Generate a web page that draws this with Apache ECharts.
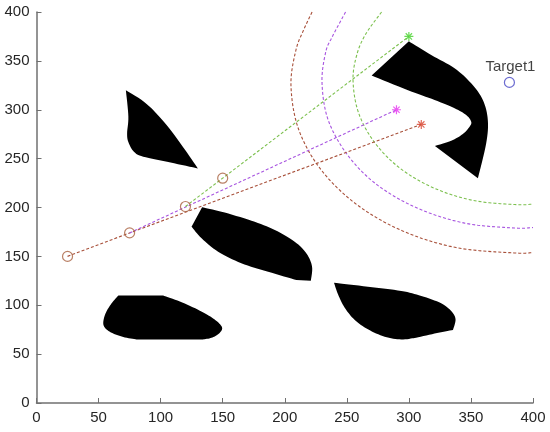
<!DOCTYPE html>
<html>
<head>
    <meta charset="utf-8">
    <title>Target1</title>
    <script src="https://cdn.jsdelivr.net/npm/echarts@6/dist/echarts.min.js"></script>
    <style>
        html, body { margin: 0; padding: 0; background: #fff; }
        #main { width: 550px; height: 432px; }
    </style>
</head>
<body>
<div id="main"></div>
<script>
    var axisTicks = [0, 50, 100, 150, 200, 250, 300, 350, 400];

    /* obstacles, each edge between two sharp corners is its own list */
    var obstacleA = [
        [[72,320],[88.7,306],[104.8,284.4],[118,262],[130,240]],
        [[130,240],[108,246],[86,252],[78.5,257],[74,267],[73,276],[74,293],[72,320]]
    ];
    var obstacleB = [
        [[300,370],[318,356],[336.8,342.4],[350.2,327],[359.6,310],[363.6,289.5],[362.3,265.7],[355.6,230]],
        [[355.6,230],[321,263]],
        [[321,263],[334.1,268.3],[343.5,275.2],[348.9,282.7],[350.2,287.8],[346.2,294.6],[336.8,301.5],[320.7,310],[299.3,320],[270,335]],
        [[270,335],[300,370]]
    ];
    var obstacleC = [
        [[133.4,200.2],[149,195.7],[173.2,186.5],[192,177],[208,165],[217.5,153],[222,139.4],[221,125]],
        [[221,125],[209.4,125.8]],
        [[209.4,125.8],[186.6,134.3],[165,143],[146.3,154.8],[133,168.5],[124.9,180.4]],
        [[124.9,180.4],[133.4,200.2]]
    ];
    var obstacleD = [
        [[66,110],[102,110]],
        [[102,110],[115.5,103.8],[131.6,94.5],[142.3,86.5],[148.2,80],[149.5,75.4],[146.3,70.3],[141,66.7],[134.2,65]],
        [[134.2,65],[80.6,65]],
        [[80.6,65],[69.9,67.5],[60.5,71.9],[55.1,77],[53.8,82.9],[55.9,92.4],[60.5,102],[66,110]]
    ];
    var obstacleE = [
        [[239.7,123],[267,119],[293.9,114.6],[310,109.5],[326,102],[334.1,94],[337.6,85.6],[335.5,74.7]],
        [[335.5,74.7],[320.7,71],[304.6,66.5]],
        [[304.6,66.5],[293.9,65],[280.5,67.8],[267,75.4],[256.4,84.9],[248.3,97.5],[242.9,111.2],[239.7,123]]
    ];

    /* paths */
    var redPath = [[25,150],[75,174],[310,285]];
    var magentaPath = [[75,174],[290,300]];
    var greenPath = [[120,201],[150,230],[300,375]];
    var waypoints = [[25,150],[75,174],[120,201],[150,230]];
    var redStar = [[310,285]];
    var magentaStar = [[290,300]];
    var greenStar = [[300,375]];
    var target = [[381,328]];

    /* arcs */
    var redArc = [[222,400],[215,381],[209,361],[205,325],[211,280.5],[229,239],[258,203],[295,176],[338,159],[385,153.5],[400,154]];
    var magentaArc = [[249,400],[238,374],[233,359],[230,328],[235,289.4],[251,253],[275,222.6],[307.5,199],[345,184],[385,179],[400,179.5]];
    var greenArc = [[278,400],[265,377],[258,356],[255,330],[259.4,297],[272.4,266.5],[293,240],[320,220],[351.4,207.3],[385,203],[400,203.5]];

    var RED = '#a8503a', MAGENTA = '#a855e0', GREEN = '#7cc04e';
    var STAR = 'path://M5 0V10M0 5H10M1.5 1.5L8.5 8.5M8.5 1.5L1.5 8.5';

    // round off a run of pixel points between its two ends
    function edgePoints(pts) {
        if (pts.length < 3) return pts;
        var out = [];
        for (var i = 0; i < pts.length - 1; i++) {
            var p0 = pts[Math.max(i - 1, 0)], p1 = pts[i], p2 = pts[i + 1], p3 = pts[Math.min(i + 2, pts.length - 1)];
            for (var k = 0; k < 8; k++) {
                var t = k / 8, t2 = t * t, t3 = t2 * t;
                out.push([
                    0.5 * (2 * p1[0] + (p2[0] - p0[0]) * t + (2 * p0[0] - 5 * p1[0] + 4 * p2[0] - p3[0]) * t2 + (3 * p1[0] - p0[0] - 3 * p2[0] + p3[0]) * t3),
                    0.5 * (2 * p1[1] + (p2[1] - p0[1]) * t + (2 * p0[1] - 5 * p1[1] + 4 * p2[1] - p3[1]) * t2 + (3 * p1[1] - p0[1] - 3 * p2[1] + p3[1]) * t3)
                ]);
            }
        }
        out.push(pts[pts.length - 1]);
        return out;
    }

    function obstacle(edges) {
        var outline = [];
        edges.forEach(function (e) {
            outline = outline.concat(e);
        });
        return {
            type: 'custom',
            coordinateSystem: 'cartesian2d',
            data: outline,
            z: 1,
            renderItem: function (params, api) {
                if (params.dataIndex !== 0) return;
                var pixels = [];
                edges.forEach(function (e) {
                    pixels = pixels.concat(edgePoints(e.map(function (p) { return api.coord(p); })));
                });
                return { type: 'polygon', shape: { points: pixels }, style: { fill: '#000' } };
            }
        };
    }

    function dashed(points, color) {
        return {
            type: 'line', data: points, symbol: 'none', z: 3,
            lineStyle: { color: color, width: 1.1, type: [3, 2] }
        };
    }

    function arc(points, color) {
        return {
            type: 'custom',
            coordinateSystem: 'cartesian2d',
            data: points,
            z: 3,
            renderItem: function (params, api) {
                if (params.dataIndex !== 0) return;
                var pixels = edgePoints(points.map(function (p) { return api.coord(p); }));
                return {
                    type: 'polyline',
                    shape: { points: pixels },
                    style: { fill: 'none', stroke: color, lineWidth: 1.1, lineDash: [3, 2] }
                };
            }
        };
    }

    function star(points, color) {
        return {
            type: 'scatter', data: points, symbol: STAR, symbolSize: 9, z: 5,
            itemStyle: { color: 'none', borderColor: color, borderWidth: 1.2 }
        };
    }

    var axisCommon = {
        type: 'value', min: 0, max: 400, interval: 50,
        splitLine: { show: false },
        axisLine: { onZero: false, lineStyle: { color: '#707070', width: 1.5 } },
        axisTick: { inside: true, length: 5, lineStyle: { color: '#707070' } },
        axisLabel: {
            color: '#262626', fontSize: 15, fontFamily: 'Liberation Sans', margin: 7,
            customValues: axisTicks
        }
    };

    var chart = echarts.init(document.getElementById('main'));
    chart.setOption({
        animation: false,
        backgroundColor: '#fff',
        grid: { left: 36.5, right: 17, top: 12, bottom: 29 },
        xAxis: axisCommon,
        yAxis: axisCommon,
        series: [
            obstacle(obstacleA), obstacle(obstacleB), obstacle(obstacleC), obstacle(obstacleD), obstacle(obstacleE),
            arc(redArc, RED), arc(magentaArc, MAGENTA), arc(greenArc, GREEN),
            dashed(redPath, RED), dashed(magentaPath, MAGENTA), dashed(greenPath, GREEN),
            {
                type: 'scatter', data: waypoints, symbol: 'circle', symbolSize: 10, z: 5,
                itemStyle: { color: 'none', borderColor: '#a8603f', borderWidth: 1.2 }
            },
            star(redStar, '#d8452f'), star(magentaStar, '#e632f0'), star(greenStar, '#45d22a'),
            {
                type: 'scatter', data: target, symbol: 'circle', symbolSize: 10, z: 5,
                itemStyle: { color: 'none', borderColor: '#4646c4', borderWidth: 1.2 },
                label: {
                    show: true, formatter: 'Target1', position: 'top', distance: 1, offset: [1, 0],
                    color: '#111', fontSize: 15, fontFamily: 'Liberation Sans'
                }
            }
        ]
    });
</script>
</body>
</html>
